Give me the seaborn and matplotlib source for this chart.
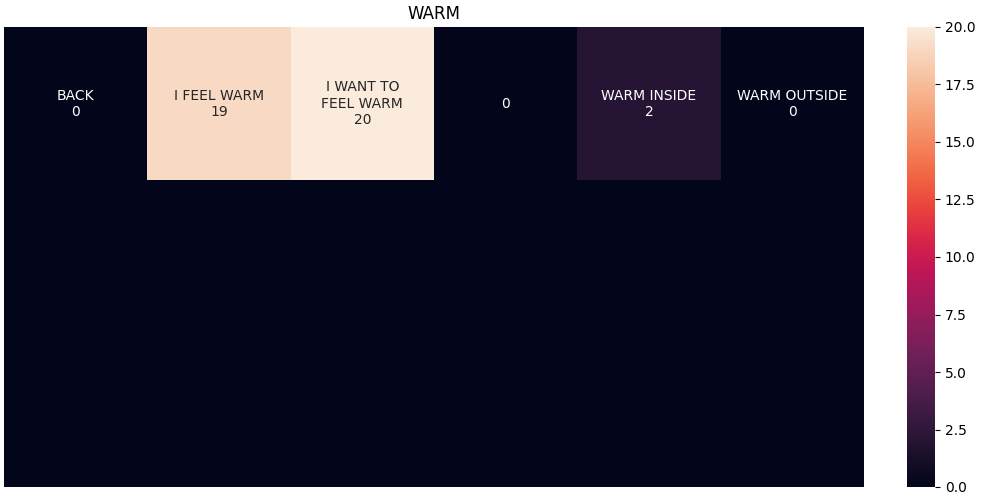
import numpy as np
import matplotlib
matplotlib.use("Agg")
import matplotlib.pyplot as plt
import seaborn as sns

# grid contents (3 rows x 6 columns), only first row labelled
row_values = [0, 19, 20, 0, 2, 0]
row_labels = ["BACK", "I FEEL WARM", "I WANT TO\nFEEL WARM", "", "WARM INSIDE", "WARM OUTSIDE"]
n_rows = 3

values = np.zeros((n_rows, len(row_values)))
values[0] = row_values

annot = np.full(values.shape, "", dtype=object)
for i, (lab, v) in enumerate(zip(row_labels, row_values)):
    annot[0, i] = f"{lab}\n{v}" if lab else f"{v}"

fig = plt.figure(figsize=(10, 5), dpi=100)
ax = fig.add_axes([0.004, 0.026, 0.860, 0.920])
cax = fig.add_axes([0.907, 0.026, 0.028, 0.920])
sns.heatmap(values, annot=annot, fmt="", xticklabels=False, yticklabels=False,
            ax=ax, cbar_ax=cax)
ax.set_title("WARM")
plt.savefig("out.png")
